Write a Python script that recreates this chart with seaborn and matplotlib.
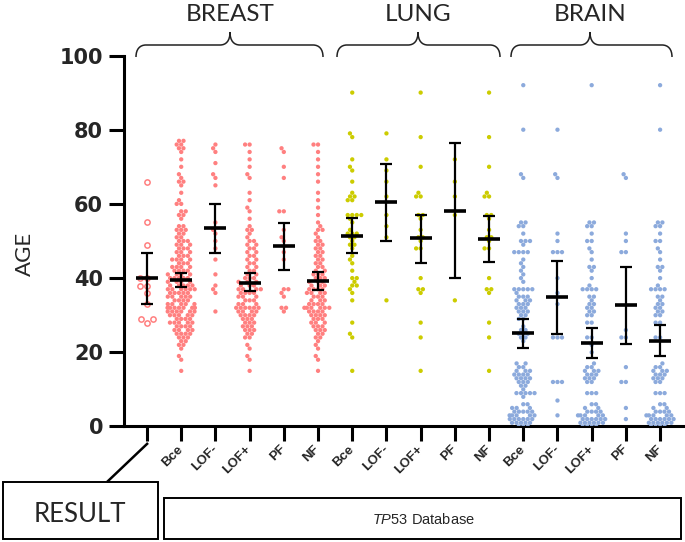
import numpy as np
import pandas as pd
import seaborn as sns
import matplotlib.pyplot as plt
from matplotlib.patches import Rectangle, PathPatch
from matplotlib.path import Path

# ---- data ----
categories = ['RESULT',
              'BREAST Bce', 'BREAST LOF-', 'BREAST LOF+', 'BREAST PF', 'BREAST NF',
              'LUNG Bce', 'LUNG LOF-', 'LUNG LOF+', 'LUNG PF', 'LUNG NF',
              'BRAIN Bce', 'BRAIN LOF-', 'BRAIN LOF+', 'BRAIN PF', 'BRAIN NF']
tick_labels = ['', 'Bce', 'LOF-', 'LOF+', 'PF', 'NF',
               'Bce', 'LOF-', 'LOF+', 'PF', 'NF',
               'Bce', 'LOF-', 'LOF+', 'PF', 'NF']
groups = ['BREAST', 'LUNG', 'BRAIN']

result_age = [66, 55, 49, 40, 40, 38, 38, 36, 33, 29, 29, 28]

# big columns stored as (age, number of patients at that age)
breast_bce_age = [15, 18, 19, 21, 22, 23, 24, 25, 26, 27, 28, 29, 30, 31, 32, 33, 34, 35, 36, 37,
                  38, 39, 40, 41, 42, 43, 44, 45, 46, 47, 48, 49, 50, 51, 52, 53, 54, 56, 57, 58,
                  60, 61, 63, 65, 66, 67, 68, 70, 72, 74, 75, 76, 77]
breast_bce_n = [1, 1, 1, 1, 2, 2, 3, 4, 4, 4, 5, 4, 5, 6, 7, 5, 4, 5, 5, 6,
                5, 4, 5, 4, 4, 4, 3, 4, 3, 3, 3, 3, 3, 2, 2, 3, 2, 1, 2, 2,
                2, 1, 1, 1, 2, 1, 1, 1, 1, 1, 2, 2, 2]
breast_lofm_age = [76, 75, 74, 71, 68, 67, 65, 55, 53, 52, 50, 48, 45, 41, 38, 37, 36, 31]
breast_lofp_age = [15, 18, 19, 21, 22, 24, 25, 26, 27, 28, 29, 30, 31, 32, 33, 34, 35, 36, 37, 38,
                   39, 40, 41, 42, 43, 44, 45, 46, 47, 48, 49, 50, 51, 52, 53, 54, 56, 58, 59, 61,
                   63, 67, 68, 70, 72, 74, 76]
breast_lofp_n = [1, 1, 1, 1, 1, 2, 2, 3, 3, 3, 3, 4, 4, 6, 3, 3, 3, 4, 4, 3,
                 3, 3, 2, 2, 2, 2, 2, 2, 2, 2, 2, 2, 1, 1, 2, 1, 1, 1, 1, 1,
                 1, 1, 1, 1, 1, 1, 2]
breast_pf_age = [75, 74, 70, 67, 58, 58, 53, 51, 50, 47, 45, 37, 37, 36, 35, 32, 32, 31]
breast_nf_age = [15, 18, 19, 21, 22, 23, 24, 25, 26, 27, 28, 29, 30, 31, 32, 33, 34, 35, 36, 37,
                 38, 39, 40, 41, 42, 43, 44, 45, 46, 47, 48, 49, 50, 51, 52, 53, 54, 55, 57, 59,
                 61, 63, 66, 68, 70, 72, 74, 76]
breast_nf_n = [1, 1, 1, 1, 1, 1, 2, 2, 3, 3, 3, 3, 4, 4, 6, 4, 3, 3, 4, 4,
               3, 3, 3, 3, 2, 2, 2, 2, 2, 2, 2, 2, 2, 1, 1, 2, 1, 1, 1, 1,
               1, 1, 1, 1, 1, 1, 1, 2]

lung_bce_age = [90, 79, 78, 72, 70, 69, 66, 63, 62, 62, 61, 61, 57, 57, 57, 57, 56, 55, 53, 52,
                52, 52, 51, 51, 50, 49, 49, 48, 46, 45, 44, 42, 40, 40, 39, 38, 38, 37, 36, 34,
                28, 25, 24, 15]
lung_lofm_age = [79, 72, 69, 66, 62, 57, 54, 51, 34]
lung_lofp_age = [90, 78, 70, 63, 62, 62, 57, 57, 56, 53, 51, 51, 50, 48, 48, 40, 37, 37, 36, 28,
                 24, 15]
lung_pf_age = [72, 66, 62, 57, 34]
lung_nf_age = [90, 78, 70, 63, 62, 62, 57, 57, 56, 53, 51, 51, 50, 48, 48, 40, 37, 37, 36, 28,
               24, 15]

brain_bce_age = [0, 1, 2, 3, 4, 5, 6, 8, 9, 10, 11, 12, 13, 14, 15, 16, 17, 23, 24, 25,
                 26, 27, 29, 30, 31, 32, 33, 34, 35, 36, 37, 39, 40, 41, 42, 43, 44, 45, 47, 49,
                 50, 52, 54, 55, 67, 68, 80, 92]
brain_bce_n = [3, 5, 6, 5, 5, 3, 2, 1, 5, 1, 2, 3, 4, 4, 3, 2, 2, 1, 2, 3,
               2, 1, 2, 2, 3, 3, 3, 3, 3, 1, 5, 1, 1, 1, 1, 1, 1, 1, 4, 1,
               3, 1, 2, 2, 1, 1, 1, 1]
brain_lofm_age = [80, 68, 67, 52, 50, 47, 47, 47, 40, 36, 33, 24, 24, 24, 12, 12, 12, 7, 3]
brain_lofp_age = [0, 1, 2, 3, 4, 5, 6, 9, 12, 13, 14, 15, 16, 17, 20, 22, 24, 28, 30, 31,
                  32, 33, 34, 35, 37, 38, 40, 42, 43, 45, 47, 48, 50, 52, 54, 55, 92]
brain_lofp_n = [4, 6, 6, 5, 4, 2, 2, 3, 2, 3, 3, 3, 2, 1, 1, 1, 2, 2, 2, 2,
                2, 2, 1, 2, 4, 1, 1, 1, 2, 1, 1, 1, 2, 1, 2, 2, 1]
brain_pf_age = [68, 67, 52, 50, 47, 47, 26, 24, 24, 16, 12, 12, 5, 2]
brain_nf_age = [0, 1, 2, 3, 4, 5, 6, 9, 12, 13, 14, 15, 16, 17, 24, 28, 30, 31, 32, 33,
                34, 35, 37, 38, 40, 42, 43, 45, 47, 48, 50, 52, 54, 55, 80, 92]
brain_nf_n = [4, 6, 6, 5, 4, 2, 2, 3, 2, 3, 3, 3, 2, 1, 2, 2, 2, 2, 2, 2,
              1, 2, 4, 1, 1, 1, 2, 1, 1, 1, 2, 1, 2, 2, 1, 1]

# mean and 95% CI as drawn in the figure
mean_age = [40.0, 39.6, 53.5, 38.8, 48.7, 39.1,
            51.4, 60.4, 50.7, 58.0, 50.5,
            25.1, 34.8, 22.5, 32.7, 23.1]
ci_low = [33.0, 37.5, 46.9, 36.6, 42.3, 36.8,
          46.8, 50.1, 44.2, 39.9, 44.4,
          21.1, 24.9, 18.4, 22.2, 18.9]
ci_high = [46.7, 41.4, 60.0, 41.3, 54.9, 41.6,
           56.2, 70.7, 57.1, 76.3, 56.7,
           28.9, 44.7, 26.5, 43.1, 27.3]

palette = {'BREAST': '#FF8080', 'LUNG': '#CCCC00', 'BRAIN': '#8CAADC'}

# ---- build long table ----
columns = [
    result_age,
    np.repeat(breast_bce_age, breast_bce_n), breast_lofm_age,
    np.repeat(breast_lofp_age, breast_lofp_n), breast_pf_age,
    np.repeat(breast_nf_age, breast_nf_n),
    lung_bce_age, lung_lofm_age, lung_lofp_age, lung_pf_age, lung_nf_age,
    np.repeat(brain_bce_age, brain_bce_n), brain_lofm_age,
    np.repeat(brain_lofp_age, brain_lofp_n), brain_pf_age,
    np.repeat(brain_nf_age, brain_nf_n),
]
rows = []
for cat, ages in zip(categories, columns):
    tissue = 'RESULT' if cat == 'RESULT' else cat.split()[0]
    rows.append(pd.DataFrame({'col': cat, 'tissue': tissue, 'age': np.asarray(ages, float)}))
df = pd.concat(rows, ignore_index=True)

sns.set_style('ticks')
plt.rcParams['mathtext.fontset'] = 'custom'
plt.rcParams['mathtext.it'] = 'Liberation Sans:italic'
plt.rcParams['mathtext.rm'] = 'Liberation Sans'

fig = plt.figure(figsize=(6.85, 5.42), dpi=100)
ax = fig.add_axes([0.181, 0.2131, 0.8161, 0.6845])

# RESULT column: open circles
sns.swarmplot(data=df[df.tissue == 'RESULT'], x='col', y='age', order=categories,
              color='white', edgecolor=palette['BREAST'], linewidth=1.1, size=3.8, ax=ax)

sns.swarmplot(data=df[df.tissue != 'RESULT'], x='col', y='age', order=categories,
              hue='tissue', palette=palette, size=3.1, legend=False, ax=ax)

x = np.arange(len(categories))
m = np.array(mean_age)
ax.errorbar(x, m, yerr=[m - np.array(ci_low), np.array(ci_high) - m], fmt='none',
            ecolor='black', elinewidth=1.6, capsize=4, capthick=1.6, zorder=5)
ax.plot(x, m, ls='none', marker='_', ms=16, mew=2.6, color='black', zorder=6)

ax.set_xlim(-0.673, 15.67)
ax.set_ylim(0, 100)
ax.set_yticks(range(0, 101, 20))
ax.set_xticks(x)
ax.set_xticklabels(tick_labels, rotation=45, ha='right', va='center', rotation_mode='anchor',
                   fontsize=9.5, fontweight='bold', family='Liberation Sans')
for t in ax.get_yticklabels():
    t.set_fontsize(15)
    t.set_fontweight('bold')
    t.set_family('DejaVu Sans')
ax.set_xlabel('')
ax.set_ylabel('')
sns.despine(ax=ax)
for s in ['left', 'bottom']:
    ax.spines[s].set_linewidth(2.2)
    ax.spines[s].set_color('black')
ax.tick_params(axis='both', length=11, width=2.2, color='black')
ax.tick_params(axis='y', pad=4)
ax.tick_params(axis='x', pad=4)

# ---- annotations in pixel coordinates ----
ov = fig.add_axes([0, 0, 1, 1])
ov.set_xlim(0, 685)
ov.set_ylim(542, 0)
ov.axis('off')

ov.text(25, 254, 'AGE', rotation=90, ha='center', va='center', fontsize=16, family='Lato')


def brace(x0, x1, xc, y_end=57, y_mid=45, y_tip=32, r=10):
    verts = [(x0, y_end), (x0, y_mid + 4), (x0 + 4, y_mid), (x0 + r, y_mid),
             (xc - r, y_mid),
             (xc - 4, y_mid), (xc, y_mid - 4), (xc, y_tip),
             (xc, y_mid - 4), (xc + 4, y_mid), (xc + r, y_mid),
             (x1 - r, y_mid),
             (x1 - 4, y_mid), (x1, y_mid + 4), (x1, y_end)]
    codes = [Path.MOVETO, Path.CURVE4, Path.CURVE4, Path.CURVE4,
             Path.LINETO,
             Path.CURVE4, Path.CURVE4, Path.CURVE4,
             Path.CURVE4, Path.CURVE4, Path.CURVE4,
             Path.LINETO,
             Path.CURVE4, Path.CURVE4, Path.CURVE4]
    ov.add_patch(PathPatch(Path(verts, codes), fill=False, lw=1.1, color='#222222'))


for name, (x0, x1, xc) in zip(groups, [(136, 323, 230), (337, 500, 418), (511, 672, 590)]):
    brace(x0, x1, xc)
    ov.text(xc, 21, name, ha='center', va='baseline', fontsize=17.5, family='Lato')

ov.plot([148, 107], [443, 482], color='black', lw=1.8, solid_capstyle='butt')
ov.add_patch(Rectangle((3, 482), 155, 57, fill=False, lw=1.4, ec='black'))
ov.add_patch(Rectangle((164, 498), 517, 41, fill=False, lw=1.4, ec='black'))
ov.text(80, 522, 'RESULT', ha='center', va='baseline', fontsize=18.5, family='Lato')
ov.text(423, 519, r'$\mathit{TP53}$ Database', ha='center', va='center', fontsize=10.5,
        family='Liberation Sans')

fig.savefig('out.png', dpi=100)
